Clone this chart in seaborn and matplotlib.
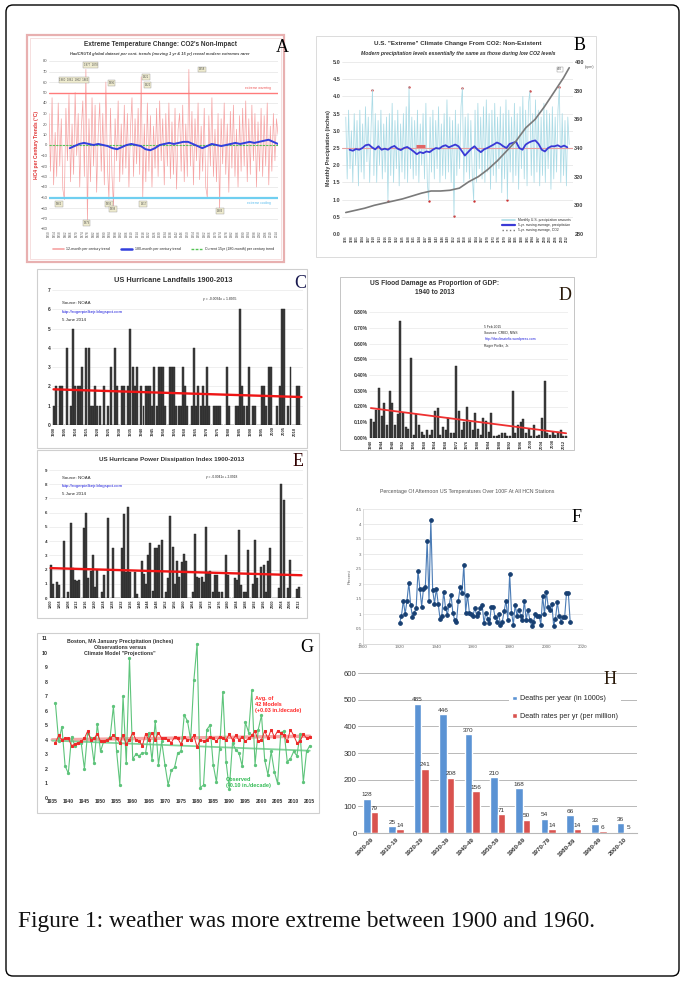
import numpy as np
import pandas as pd
import matplotlib
matplotlib.use("Agg")
import matplotlib.pyplot as plt
import matplotlib.ticker as mticker
from matplotlib.patches import Rectangle, FancyBboxPatch
from matplotlib.lines import Line2D
import seaborn as sns

sns.set_style("white")
plt.rcParams['font.family'] = ['Liberation Sans', 'DejaVu Sans']

# ---------------- data ----------------
# A: HadCRUT4 per-century trends (12-month and 180-month)
a_red = [30, -25, 45, -38, 12, -30, 40, -20, 25, -42,
         -52, 35, -15, 48, -35, 20, -28, 50, -10, 30,
         -40, 15, 42, -30, 72, -73, 25, -35, 45, -20,
         38, -45, 10, 40, -25, 30, -38, 60, -20, -52,
         35, -30, -58, 25, -15, 42, -35, 20, -28, 38,
         -22, 30, -40, 15, 45, -30, 25, -18, 35, -28,
         65, -50, 20, -35, 40, -25, 28, -40, 18, -22,
         35, -30, 42, -15, 25, -38, 30, -20, 40, -32,
         22, -28, 35, -42, 15, 30, -25, 38, -35, 20,
         -30, 72, -20, 32, -38, 25, -15, 40, -33, 18,
         -25, 35, -40, -50, 28, -20, 45, -30, 15, -35,
         30, -62, 25, -18, 40, -28, 20, -45, 32, -22,
         38, -30, 15, -40, 28, -25, 35, -20, 42, -35,
         25, -28, 38, -15, 30, -40, 22, -25, 35, -30,
         28, -20, 40, -38, 18, -25, 30, -15, 25, 10]
a_blue = [-3, -1, 1, 2, 1, 0, 1, 0, -1, -3, -4, -2, 0, 1, 0, -1, -4, -5, -3, 0,
          1, 2, 1, 2, 3, 3, 1, -1, -3, -1, 1, 0, -1, 0, 1, 2, 1, 2, 3, 2,
          3, 4, 5, 3, 1]
a_span = (1850, 2015)
a_blue_span = (1865, 2015)
a_boxes = [(1868, 62, "1860  1861  1862  1863"), (1880, 76, "1877  1878"),
           (1895, 59, "1896"), (1920, 65, "1921"), (1921, 57, "1922"),
           (1960, 72, "1958"), (1857, -56, "1862"), (1877, -74, "1879"),
           (1893, -56, "1893"), (1896, -61, "1898"), (1918, -56, "1917"),
           (1973, -63, "1983")]

# B: U.S. monthly precipitation, 5-yr average, CO2
b_monthly = [3.4, 1.6, 3.6, 1.9, 3.0, 1.5, 3.5, 2.0, 3.3, 1.4,
             3.6, 1.8, 3.2, 1.6, 3.7, 2.1, 3.4, 1.5, 3.1, 4.2,
             1.7, 3.5, 1.5, 3.3, 2.0, 3.6, 1.6, 3.2, 1.8, 3.4,
             0.97, 3.5, 1.7, 3.8, 1.5, 3.3, 1.9, 3.6, 1.4, 3.2,
             1.8, 3.5, 1.6, 3.7, 1.5, 4.28, 1.9, 3.4, 1.6, 3.3,
             1.7, 3.6, 1.5, 3.2, 2.0, 3.5, 1.6, 3.8, 1.5, 0.97,
             3.4, 1.8, 3.6, 1.6, 3.3, 1.9, 3.7, 1.5, 3.2, 1.7,
             3.5, 1.6, 3.9, 1.8, 3.4, 1.5, 3.3, 0.52, 3.6, 1.7,
             3.2, 1.9, 3.7, 4.25, 1.5, 3.4, 1.8, 3.5, 1.6, 3.3,
             1.7, 0.97, 3.6, 1.5, 3.8, 1.9, 3.4, 1.6, 3.7, 1.5,
             3.9, 1.8, 3.5, 1.3, 3.6, 1.7, 3.8, 1.5, 3.4, 1.9,
             3.7, 1.2, 3.5, 1.6, 3.9, 1.0, 3.6, 1.8, 3.4, 1.5,
             3.8, 1.7, 3.5, 1.3, 3.7, 1.9, 4.0, 1.6, 3.6, 1.4,
             3.8, 4.15, 1.7, 3.5, 1.5, 3.9, 1.8, 3.6, 1.4, 3.4,
             1.7, 3.8, 1.5, 3.6, 1.9, 3.5, 1.3, 3.7, 1.6, 3.4,
             1.8, 3.6, 4.28, 1.5, 3.5, 1.7, 3.3, 1.4, 3.4, 2.6]
b_flags = [19, 45, 83, 131, 152, 30, 59, 77, 91, 115]
b_ma = [2.45, 2.42, 2.47, 2.45, 2.50, 2.58, 2.60, 2.52, 2.46, 2.55, 2.45, 2.48,
        2.45, 2.52, 2.56, 2.48, 2.44, 2.50, 2.53, 2.47, 2.40, 2.32, 2.38, 2.35,
        2.40, 2.38, 2.45, 2.50, 2.48, 2.55, 2.58, 2.52, 2.56, 2.60, 2.55, 2.42,
        2.28, 2.38, 2.48, 2.55, 2.45, 2.38, 2.46, 2.50, 2.55, 2.60, 2.66, 2.62,
        2.55, 2.50, 2.62, 2.65, 2.68, 2.50, 2.45, 2.60, 2.66, 2.70, 2.72, 2.62,
        2.45, 2.40, 2.50, 2.55, 2.55, 2.58, 2.53, 2.57, 2.52]
b_span = (1895, 2013)
b_ma_span = (1897, 2012)
b_co2_years = [1895, 1900, 1905, 1910, 1915, 1920, 1925, 1930, 1935, 1940, 1945,
               1950, 1955, 1960, 1965, 1970, 1975, 1980, 1985, 1990, 1995, 2000,
               2005, 2010, 2013]
b_co2 = [295, 296.5, 298, 300, 301.5, 303, 304.5, 306.5, 308.5, 310, 310,
         310.5, 312, 316.5, 320, 325, 331, 338, 345, 354, 360, 369, 379, 389, 396]
b_mark = (1932, 1937, 2.55)

# C: US hurricane landfalls 1900-2013
c_vals = [1, 2, 0, 2, 2, 0, 4, 0, 1, 5,
          2, 2, 2, 3, 0, 4, 4, 1, 1, 2,
          1, 1, 0, 2, 0, 1, 3, 0, 4, 2,
          0, 2, 2, 0, 2, 5, 3, 2, 3, 0,
          2, 1, 2, 2, 2, 1, 3, 1, 3, 3,
          3, 1, 0, 3, 3, 3, 1, 1, 1, 3,
          2, 1, 0, 1, 4, 1, 2, 1, 2, 1,
          3, 1, 0, 1, 1, 1, 1, 0, 0, 3,
          1, 0, 0, 1, 1, 6, 2, 1, 1, 3,
          0, 1, 1, 0, 0, 2, 2, 1, 3, 3,
          0, 0, 1, 2, 6, 6, 0, 1, 3, 0,
          0, 2, 2, 0]
c_trend = [1.85, 1.45]

# D: US flood damage as % of GDP 1940-2013
d_vals = [0.12, 0.10, 0.18, 0.32, 0.14, 0.22, 0.08, 0.30, 0.22, 0.08,
          0.15, 0.74, 0.16, 0.07, 0.06, 0.51, 0.02, 0.15, 0.08, 0.04,
          0.02, 0.05, 0.02, 0.05, 0.17, 0.19, 0.02, 0.07, 0.05, 0.13,
          0.03, 0.03, 0.46, 0.17, 0.05, 0.10, 0.20, 0.10, 0.05, 0.16,
          0.06, 0.02, 0.13, 0.11, 0.04, 0.16, 0.01, 0.01, 0.02, 0.03,
          0.03, 0.01, 0.01, 0.30, 0.03, 0.08, 0.10, 0.12, 0.03, 0.06,
          0.01, 0.08, 0.01, 0.02, 0.13, 0.36, 0.03, 0.02, 0.04, 0.02,
          0.04, 0.05, 0.01, 0.01]
d_trend = [0.19, 0.03]

# E: US hurricane power dissipation index 1900-2013
e_vals = [2.3, 1.0, 0, 1.1, 0.9, 0, 4.0, 0, 0.4, 5.3,
          2.1, 1.3, 1.2, 1.3, 0, 4.9, 6.0, 1.4, 1.9, 3.0,
          0.8, 2.0, 0, 0.4, 1.6, 0, 5.6, 0, 3.5, 0,
          0, 0, 3.5, 5.9, 1.8, 6.4, 1.8, 0, 1.8, 0.3,
          0, 2.6, 1.7, 1.0, 3.0, 3.9, 0.5, 3.5, 3.5, 3.7,
          4.1, 0, 0.4, 1.4, 5.8, 3.6, 1.0, 2.6, 1.5, 2.5,
          3.1, 2.6, 0, 0, 0.4, 4.5, 1.5, 1.4, 1.5, 1.1,
          5.0, 1.8, 1.9, 0.4, 1.6, 1.6, 0.4, 0.4, 0, 3.0,
          1.6, 0, 0, 1.4, 1.3, 4.8, 0.9, 0.4, 0.4, 3.4,
          0, 1.0, 4.1, 1.4, 0, 2.2, 2.3, 0.4, 2.6, 3.5,
          0, 0, 0, 0.7, 8.0, 6.9, 0, 0.7, 2.7, 0,
          0, 0.6, 0.8, 0]
e_trend = [2.1, 1.6]

# F: % afternoon temps over 100F, from 1920
f_vals = [0.70, 0.95, 1.45, 1.00, 1.45, 2.05, 1.30, 0.90, 1.05, 1.20,
          2.45, 1.85, 1.25, 1.85, 1.90, 3.45, 1.45, 4.15, 1.80, 1.35,
          1.85, 1.35, 0.85, 0.95, 1.75, 1.20, 0.98, 1.30, 1.65, 1.05,
          0.80, 0.75, 1.45, 1.90, 1.70, 2.65, 1.05, 1.65, 1.05, 1.00,
          0.95, 1.20, 0.95, 1.05, 1.20, 1.30, 0.70, 1.05, 0.85, 0.70,
          1.25, 1.25, 0.90, 0.75, 1.00, 0.65, 0.75, 1.10, 1.45, 0.80,
          2.35, 1.05, 0.65, 1.30, 0.95, 1.15, 0.95, 0.80, 1.45, 0.80,
          1.15, 0.80, 0.60, 0.75, 1.00, 0.95, 0.95, 0.65, 1.60, 1.00,
          1.75, 1.25, 1.15, 1.35, 0.60, 0.85, 1.40, 0.95, 0.75, 0.90,
          0.90, 1.70, 1.70, 0.75]
f_start = 1920

# G: Boston January precipitation 1936-2015
g_obs = [6.5, 3.9, 4.9, 2.2, 1.7, 4.2, 3.6, 3.8, 3.8, 2.0,
         4.5, 4.1, 2.4, 5.1, 3.2, 3.9, 4.0, 4.2, 6.3, 3.2,
         0.9, 7.0, 2.4, 9.6, 2.7, 3.0, 2.9, 3.1, 3.1, 4.5,
         2.6, 5.3, 2.3, 3.9, 2.3, 0.9, 1.9, 2.1, 3.1, 3.2,
         5.7, 5.3, 4.0, 8.1, 10.6, 0.7, 0.9, 4.7, 5.0, 2.3,
         1.1, 3.4, 7.3, 2.5, 0.6, 3.8, 3.3, 3.1, 2.2, 5.2,
         4.5, 7.4, 2.3, 4.7, 5.7, 2.6, 1.6, 3.2, 1.8, 1.0,
         4.5, 4.6, 2.5, 2.7, 3.2, 2.9, 4.4, 1.1, 3.2, 3.6]
g_mod = [3.8, 4.3, 4.0, 4.1, 4.1, 3.6, 3.7, 3.8, 3.9, 4.1,
         4.6, 4.0, 4.1, 4.4, 3.9, 3.9, 4.0, 4.1, 4.3, 4.1,
         3.8, 4.3, 3.7, 4.0, 4.5, 4.0, 3.9, 3.6, 4.4, 4.0,
         4.5, 4.0, 4.5, 4.1, 4.1, 4.0, 3.8, 4.2, 4.1, 3.7,
         4.2, 4.0, 4.0, 4.3, 3.5, 4.0, 3.9, 4.0, 4.2, 4.1,
         3.9, 4.2, 4.1, 4.0, 4.4, 4.0, 4.3, 4.0, 4.2, 3.9,
         4.1, 4.3, 4.6, 3.9, 4.0, 4.6, 4.1, 4.7, 4.2, 4.6,
         4.5, 4.3, 3.9, 4.7, 4.3, 3.8, 3.9, 4.4, 4.1, 4.2]
g_start = 1936
g_trend_years = [1935, 2015]
g_mod_trend = [4.0, 4.25]
g_obs_trend = [3.95, 3.25]

# H: deaths by decade
h_cats = ["1900-09", "1910-19", "1920-29", "1930-39", "1940-49", "1950-59",
          "1960-69", "1970-79", "1980-89", "1990-99", "2000-10"]
h_deaths = [128, 25, 485, 446, 370, 210, 168, 54, 66, 33, 36]
h_rates = [79, 14, 241, 208, 156, 71, 50, 14, 14, 6, 5]
h_series = ["Deaths per year (in 1000s)", "Death rates per yr (per million)"]

# ---------------- layout helpers ----------------
W, H = 684, 983
fig = plt.figure(figsize=(W / 100, H / 100), dpi=100)
bg = fig.add_axes([0, 0, 1, 1])
bg.set_xlim(0, W)
bg.set_ylim(H, 0)
bg.axis('off')
letters = []


def pax(x0, y0, x1, y1):
    return fig.add_axes([x0 / W, 1 - y1 / H, (x1 - x0) / W, (y1 - y0) / H])


def frame(x0, y0, x1, y1, ec='#cfcfcf', lw=0.8):
    bg.add_patch(Rectangle((x0, y0), x1 - x0, y1 - y0, fill=False, ec=ec, lw=lw))


def letter(x, y, s, color='black'):
    letters.append((x, y, s, color))


def clean(ax, size, xsize=None, rot=90, bold=False, color='#333333'):
    for sp in ax.spines.values():
        sp.set_visible(False)
    ax.tick_params(length=0, pad=1, labelsize=size, colors=color)
    ax.tick_params(axis='x', labelsize=xsize or size, labelrotation=rot)
    if bold:
        for t in ax.get_xticklabels() + ax.get_yticklabels():
            t.set_fontweight('bold')
    ax.set_xlabel('')
    ax.set_ylabel('')


bg.add_patch(FancyBboxPatch((6, 5), 673, 971, boxstyle="round,pad=0,rounding_size=7",
                            fc='none', ec='black', lw=1.0))

# ---------------- A ----------------
frame(27, 35, 284, 262, ec='#e8b0b0', lw=1.6)
frame(30, 38, 281, 259, ec='#f3d2d2', lw=0.5)
bg.text(160, 45, "Extreme Temperature Change: CO2's Non-Impact", fontsize=4.7,
        fontweight='bold', ha='center', va='center', color='#333')
bg.text(160, 54, "HadCRUT4 global dataset per cent. trends (moving 1 yr & 15 yr) reveal modern extremes rarer",
        fontsize=2.9, style='italic', fontweight='bold', ha='center', va='center', color='#444')
axA = pax(49, 61, 278, 229)
a_x = np.linspace(a_span[0], a_span[1], len(a_red))
a_bx = np.linspace(a_blue_span[0], a_blue_span[1], len(a_blue))
sns.lineplot(x=a_x, y=a_red, ax=axA, color='#f6a3a3', lw=0.5)
axA.axhline(50, color='#ff7b7b', lw=1.0)
axA.axhline(-50, color='#70cff0', lw=1.6)
axA.axhline(0, color='#55c455', lw=0.8, ls=(0, (2, 1)))
sns.lineplot(x=a_bx, y=a_blue, ax=axA, color='#3340dd', lw=1.4)
axA.set_xlim(*a_span)
axA.set_ylim(-80, 80)
axA.set_yticks(range(-80, 81, 10))
axA.set_xticks(range(1850, 2015, 4))
axA.grid(axis='y', color='#dddddd', lw=0.4)
axA.set_axisbelow(True)
clean(axA, 3, xsize=2.2, color='#555')
axA.set_ylabel("HC4 per Century Trends (°C)", color='#e03030', fontsize=3.6,
               fontweight='bold', labelpad=1)
axA.text(2010, 52, "extreme warming", color='#ee5555', fontsize=2.4, ha='right', va='bottom')
axA.text(2010, -53, "extreme cooling", color='#55bbee', fontsize=2.4, ha='right', va='top')
for bx, by, bs in a_boxes:
    axA.text(bx, by, bs, fontsize=2.0, ha='center', va='center', color='#555',
             bbox=dict(boxstyle='square,pad=0.3', fc='#efeccf', ec='#999', lw=0.3))
axA.legend([Line2D([], [], color='#f6a3a3', lw=1.2), Line2D([], [], color='#3340dd', lw=1.8),
            Line2D([], [], color='#55c455', lw=1, ls=(0, (2, 1)))],
           ["12-month per century trend", "180-month per century trend",
            "Current 15yr (180-month) per century trend"],
           loc='upper center', bbox_to_anchor=(0.5, -0.09), ncol=3, fontsize=2.6,
           frameon=False, handlelength=3, columnspacing=3)
letter(282, 47, "A")

# ---------------- B ----------------
frame(316, 36, 596, 257, ec='#d6d6d6', lw=0.6)
bg.text(458, 43, 'U.S. "Extreme" Climate Change From CO2: Non-Existent', fontsize=4.5,
        fontweight='bold', ha='center', va='center', color='#333')
bg.text(458, 53, "Modern precipitation levels essentially the same as those during low CO2 levels",
        fontsize=3.7, style='italic', fontweight='bold', ha='center', va='center', color='#333')
axB = pax(342, 62, 573, 234)
b_x = np.linspace(b_span[0], b_span[1], len(b_monthly))
b_mx = np.linspace(b_ma_span[0], b_ma_span[1], len(b_ma))
b_arr = np.array(b_monthly)
sns.lineplot(x=b_x, y=b_arr, ax=axB, color='#abdbe6', lw=0.55)
axB.axhline(2.5, color='#e8a0a0', lw=0.8)
sns.lineplot(x=b_mx, y=b_ma, ax=axB, color='#3a3ad6', lw=1.3)
sns.scatterplot(x=b_x[b_flags], y=b_arr[b_flags], ax=axB, color='#cc3333', s=3, linewidth=0)
axB.hlines(b_mark[2], b_mark[0], b_mark[1], color='#e06464', lw=2.2)
axB.set_xlim(1893, 2015)
axB.set_ylim(0, 5)
axB.set_yticks(np.arange(0, 5.01, 0.5))
axB.yaxis.set_major_formatter(mticker.FormatStrFormatter('%.1f'))
axB.set_xticks(range(1895, 2014, 3))
axB.grid(axis='y', color='#dcdcdc', lw=0.4)
axB.set_axisbelow(True)
clean(axB, 4, xsize=2.2, bold=True, color='#444')
axB.set_ylabel("Monthly Precipitation (inches)", fontsize=3.8, fontweight='bold',
               color='#333', labelpad=1)
axB2 = axB.twinx()
sns.lineplot(x=b_co2_years, y=b_co2, ax=axB2, color='#7a7a7a', lw=1.2)
axB2.set_ylim(280, 400)
axB2.set_yticks(range(280, 401, 20))
clean(axB2, 4, bold=True, color='#444')
axB2.text(1.05, 0.985, "(ppm)", transform=axB2.transAxes, fontsize=2.6, color='#555', va='top')
axB2.text(2008, 395, "400", fontsize=2.2, color='#444', ha='center', va='center',
          bbox=dict(boxstyle='square,pad=0.2', fc='white', ec='#888', lw=0.3))
axB2.legend([Line2D([], [], color='#abdbe6', lw=1.2), Line2D([], [], color='#3a3ad6', lw=1.6),
             Line2D([], [], color='#7a7a7a', lw=1, ls=':')],
            ["Monthly U.S. precipitation amounts", "5-yr. moving average, precipitation",
             "5-yr. moving average, CO2"], loc='lower right', fontsize=2.4, frameon=False,
            handlelength=4, labelspacing=0.2, borderaxespad=0.3)
letter(580, 45, "B")

# ---------------- C ----------------
frame(37, 269, 307, 448)
bg.text(173, 280, "US Hurricane Landfalls 1900-2013", fontsize=5.3, fontweight='bold',
        ha='center', va='center', color='#333')
axC = pax(52, 290, 303, 425)
c_years = np.arange(1900, 1900 + len(c_vals))
sns.barplot(x=c_years, y=c_vals, ax=axC, native_scale=True, color='#3f3f3f',
            saturation=1, edgecolor='#1c1c1c', linewidth=0.3, errorbar=None, width=0.9)
sns.lineplot(x=[c_years[0], c_years[-1]], y=c_trend, ax=axC, color='#ee1515', lw=1.7)
axC.set_xlim(1899.3, 2013.7)
axC.set_ylim(0, 7)
axC.set_yticks(range(0, 8))
axC.set_xticks(range(1900, 2011, 5))
axC.grid(axis='y', color='#e4e4e4', lw=0.4)
axC.set_axisbelow(True)
clean(axC, 3.5, xsize=3.0, bold=True)
axC.text(0.04, 0.9, "Source: NOAA", transform=axC.transAxes, fontsize=3.2, va='center')
axC.text(0.04, 0.84, "http://rogerpielkejr.blogspot.com", transform=axC.transAxes,
         fontsize=3.2, va='center', color='#2222dd')
axC.text(0.04, 0.78, "5 June 2014", transform=axC.transAxes, fontsize=3.2, va='center')
axC.text(0.6, 0.93, "y = -0.0034x + 1.8955", transform=axC.transAxes, fontsize=2.4, va='center')
letter(300, 283, "C", color='#1a1a50')

# ---------------- D ----------------
frame(340, 277, 574, 450, ec='#bbbbbb', lw=0.6)
bg.text(435, 288, "US Flood Damage as Proportion of GDP:\n1940 to 2013", fontsize=4.8,
        fontweight='bold', ha='center', va='center', color='#333', linespacing=1.3)
axD = pax(369, 312, 568, 438)
d_years = np.arange(1940, 1940 + len(d_vals))
sns.barplot(x=d_years, y=d_vals, ax=axD, native_scale=True, color='#3f3f3f',
            saturation=1, edgecolor='#1c1c1c', linewidth=0.3, errorbar=None, width=0.75)
sns.lineplot(x=[d_years[0], d_years[-1]], y=d_trend, ax=axD, color='#ee3030', lw=1.3)
axD.set_xlim(1939.3, 2013.7)
axD.set_ylim(0, 0.8)
axD.set_yticks(np.arange(0, 0.81, 0.1))
axD.yaxis.set_major_formatter(mticker.FuncFormatter(lambda v, p: f"{v:.2f}%"))
axD.set_xticks(range(1940, 2013, 4))
axD.grid(axis='y', color='#e4e4e4', lw=0.4)
axD.set_axisbelow(True)
clean(axD, 3.5, xsize=3.0, bold=True)
axD.text(0.58, 0.9, "5 Feb 2015\nSources: CRED, NWS", transform=axD.transAxes,
         fontsize=2.4, va='top', linespacing=1.6)
axD.text(0.58, 0.8, "http://theclimatefix.wordpress.com", transform=axD.transAxes,
         fontsize=2.4, va='top', color='#2222dd')
axD.text(0.58, 0.75, "Roger Pielke, Jr.", transform=axD.transAxes, fontsize=2.4, va='top')
letter(565, 295, "D", color='#2a1a0a')

# ---------------- E ----------------
frame(37, 450, 307, 618)
bg.text(172, 460, "US Hurricane Power Dissipation Index 1900-2013", fontsize=4.5,
        fontweight='bold', ha='center', va='center', color='#333')
axE = pax(49, 470, 303, 598)
e_years = np.arange(1900, 1900 + len(e_vals))
sns.barplot(x=e_years, y=e_vals, ax=axE, native_scale=True, color='#3f3f3f',
            saturation=1, edgecolor='#1c1c1c', linewidth=0.3, errorbar=None, width=0.9)
sns.lineplot(x=[e_years[0], e_years[-1]], y=e_trend, ax=axE, color='#ee1515', lw=1.7)
axE.set_xlim(1899.3, 2013.7)
axE.set_ylim(0, 9)
axE.set_yticks(range(0, 10))
axE.set_xticks(range(1900, 2013, 4))
axE.grid(axis='y', color='#e4e4e4', lw=0.4)
axE.set_axisbelow(True)
clean(axE, 3.2, xsize=2.8, bold=True)
axE.text(0.05, 0.94, "Source: NOAA", transform=axE.transAxes, fontsize=3.2, va='center')
axE.text(0.05, 0.875, "http://rogerpielkejr.blogspot.com", transform=axE.transAxes,
         fontsize=3.2, va='center', color='#2222dd')
axE.text(0.05, 0.815, "5 June 2014", transform=axE.transAxes, fontsize=3.2, va='center')
axE.text(0.62, 0.945, "y = -0.0041x + 2.0918", transform=axE.transAxes, fontsize=2.3, va='center')
letter(298, 461, "E", color='#300000')

# ---------------- F ----------------
bg.text(467, 491, "Percentage Of Afternoon US Temperatures Over 100F At All HCN Stations",
        fontsize=3.8, ha='center', va='center', color='#555')
axF = pax(363, 509, 583, 644)
f_years = np.arange(f_start, f_start + len(f_vals))
sns.lineplot(x=f_years, y=f_vals, ax=axF, color='#4a7bb5', lw=0.8, marker='o',
             markersize=2.6, markerfacecolor='#173f72', markeredgecolor='#173f72')
axF.set_xlim(1900, 2020)
axF.set_ylim(0, 4.5)
axF.set_yticks(np.arange(0, 4.51, 0.5))
axF.yaxis.set_major_formatter(mticker.FormatStrFormatter('%g'))
axF.set_xticks(range(1900, 2021, 20))
axF.grid(axis='y', color='#e2e2e2', lw=0.5)
clean(axF, 3.2, rot=0, color='#666')
for sp in ['left', 'bottom']:
    axF.spines[sp].set_visible(True)
    axF.spines[sp].set_color('#cccccc')
    axF.spines[sp].set_linewidth(0.5)
axF.set_ylabel("Percent", fontsize=3.2, color='#666', labelpad=3)
letter(577, 517, "F")

# ---------------- G ----------------
frame(37, 633, 319, 813)
axG = pax(49, 638, 313, 798)
g_years = np.arange(g_start, g_start + len(g_obs))
g_myears = np.arange(g_start, g_start + len(g_mod))
sns.lineplot(x=g_trend_years, y=g_mod_trend, ax=axG, color='#f5a5a5', lw=2.4)
sns.lineplot(x=g_trend_years, y=g_obs_trend, ax=axG, color='#82d49c', lw=1.3)
sns.lineplot(x=g_years, y=g_obs, ax=axG, color='#5ec47b', lw=0.8, marker='o',
             markersize=1.6, markerfacecolor='#5ec47b', markeredgecolor='#5ec47b')
sns.lineplot(x=g_myears, y=g_mod, ax=axG, color='#ee2a2a', lw=0.7, marker='s',
             markersize=1.9, markerfacecolor='#ee2a2a', markeredgecolor='#ee2a2a')
axG.set_xlim(1934, 2016)
axG.set_ylim(0, 11)
axG.set_yticks(range(0, 12))
axG.set_xticks(range(1935, 2016, 5))
clean(axG, 3.8, xsize=3.6, rot=0, bold=True)
axG.text(1956, 10.95, 'Boston, MA January Precipitation (inches)\nObservations versus\nClimate Model "Projections"',
         fontsize=3.8, fontweight='bold', ha='center', va='top', color='#333', linespacing=1.25)
axG.text(1998, 7.0, "Avg. of\n42 Models\n(+0.03 in./decade)", fontsize=4.0, fontweight='bold',
         color='#ff2a2a', ha='left', va='top', linespacing=1.2)
axG.text(1989, 1.45, "Observed\n(-0.10 in./decade)", fontsize=4.0, fontweight='bold',
         color='#33bb55', ha='left', va='top', linespacing=1.2)
letter(307, 648, "G")

# ---------------- H ----------------
axH = pax(358, 673, 637, 833)
h_df = pd.DataFrame({
    "decade": h_cats * 2,
    "series": [h_series[0]] * len(h_cats) + [h_series[1]] * len(h_cats),
    "value": h_deaths + h_rates,
})
sns.barplot(data=h_df, x="decade", y="value", hue="series", ax=axH,
            palette=['#5b93d4', '#d9534f'], saturation=1, errorbar=None, width=0.6)
for cont in axH.containers:
    axH.bar_label(cont, fontsize=4.6, padding=1, color='#333')
axH.set_ylim(0, 600)
axH.set_yticks(range(0, 601, 100))
axH.set_xlim(-0.5, len(h_cats) - 0.5)
axH.grid(axis='y', color='#b8b8b8', lw=0.7)
axH.set_axisbelow(True)
clean(axH, 5.6, xsize=4.5, rot=45)
for t in axH.get_xticklabels():
    t.set_ha('right')
    t.set_rotation_mode('anchor')
    t.set_fontweight('bold')
axH.spines['bottom'].set_visible(True)
axH.spines['bottom'].set_color('#b8b8b8')
axH.tick_params(axis='x', pad=3)
leg = axH.legend(loc='upper left', bbox_to_anchor=(0.53, 0.9), fontsize=5.2, frameon=True,
                 facecolor='white', edgecolor='none', framealpha=1, handlelength=0.6,
                 handleheight=0.6, labelspacing=1.5, borderpad=0.4, handletextpad=0.5)
leg.get_frame().set_linewidth(0)
letter(610, 679, "H", color='#2a1a0a')

# ---------------- caption ----------------
bg.text(18, 927, "Figure 1: weather was more extreme between 1900 and 1960.",
        family='Liberation Serif', fontsize=16.8, ha='left', va='baseline', color='#111')

# panel letters on top of everything
top = fig.add_axes([0, 0, 1, 1])
top.set_xlim(0, W)
top.set_ylim(H, 0)
top.axis('off')
top.patch.set_alpha(0)
for lx, ly, ls, lc in letters:
    top.text(lx, ly, ls, family='Liberation Serif', fontsize=13, ha='center',
             va='center', color=lc)

fig.savefig("out.png", dpi=100)
